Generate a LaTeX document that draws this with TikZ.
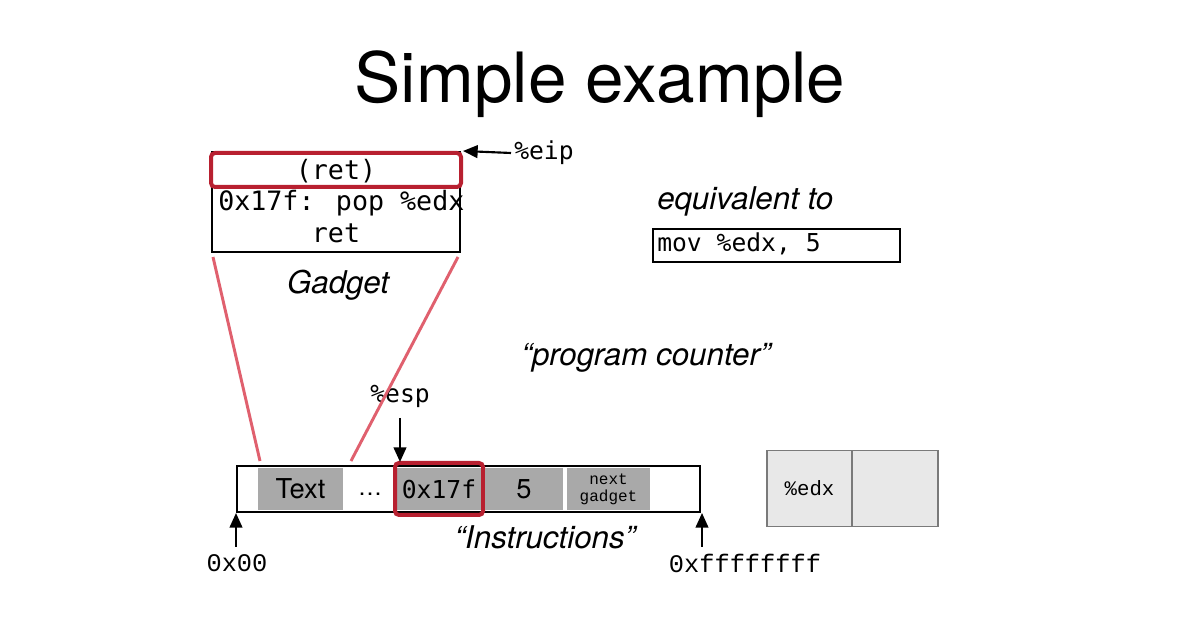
\documentclass[tikz,border=0pt]{standalone}
\usepackage{fontspec}
\setmainfont{TeX Gyre Heros}
\newfontfamily\codefont{DejaVu Sans Mono}
\newfontfamily\courfont{Liberation Mono}
\usetikzlibrary{arrows.meta}

\definecolor{boxred}{HTML}{B82030}
\definecolor{linkred}{HTML}{E0606E}
\definecolor{cellgray}{HTML}{A9A9A9}
\definecolor{regfill}{HTML}{E8E8E8}
\definecolor{regline}{HTML}{7A7A7A}

\tikzset{
  plainbox/.style={draw=black, line width=0.9pt, inner sep=0pt},
  hotbox/.style={draw=boxred, line width=3pt, rounded corners=3pt, inner sep=0pt},
  cell/.style={fill=cellgray, inner sep=0pt, minimum height=31.5pt},
  regcell/.style={draw=regline, fill=regfill, line width=0.8pt, inner sep=0pt, minimum height=57pt},
  pointer/.style={line width=1.6pt, -{Triangle[length=11pt,width=9.5pt]}},
  zoomline/.style={draw=linkred, line width=2.2pt},
  code/.style={font=\codefont\fontsize{18.5}{22}\selectfont, inner sep=0pt},
  bigcode/.style={font=\codefont\fontsize{20}{24}\selectfont, inner sep=0pt},
  addr/.style={font=\courfont\fontsize{19}{22}\selectfont, inner sep=0pt},
  caption/.style={font=\itshape\fontsize{23.5}{28}\selectfont, inner sep=0pt}
}

\begin{document}
\begin{tikzpicture}[x=0.75pt, y=-0.75pt]
\useasboundingbox[fill=white] (0,0) rectangle (1200,630);

% title
\node[anchor=base, inner sep=0pt, font=\fontsize{52}{60}\selectfont] (title) at (600,103) {Simple example};

% gadget listing
\node[plainbox, minimum width=186pt, minimum height=75pt] (gadget) at (336,202) {};
\node[hotbox, minimum width=187.5pt, minimum height=25.5pt] (retbox) at (336,170) {};
\node[bigcode] (rettxt) at (336,171) {(ret)};
\node[bigcode, anchor=base west] (popline) at (218,211) {0x17f: pop \%edx};
\node[bigcode, anchor=base] (retline) at (336,243) {ret};
\node[caption, anchor=base] (gadgetlbl) at (338,294) {Gadget};

% instruction pointer
\node[code, anchor=west] (eip) at (514,153) {\%eip};
\draw[pointer] (eip.west) ++(-3,0) -- (retbox.north east);

% equivalent instruction
\node[caption, anchor=base west] (equiv) at (657,210) {equivalent to};
\node[plainbox, minimum width=185.25pt, minimum height=24.75pt] (movbox) at (776.5,245.5) {};
\node[code, anchor=west] (movtxt) at (657,244) {mov \%edx, 5};

\node[caption, anchor=base] (pc) at (646,366) {“program counter”};

% memory strip
\node[plainbox, minimum width=347.25pt, minimum height=34.5pt] (mem) at (468.5,489) {};
\node[cell, minimum width=63.75pt, font=\fontsize{20.5}{24}\selectfont] (textcell) at (300.5,489) {Text};
\node[anchor=base, inner sep=0pt, font=\fontsize{18}{22}\selectfont] (dots) at (370,496) {…};
\node[cell, minimum width=64.5pt, code] (gadcell) at (439,489) {0x17f};
\node[hotbox, minimum width=66pt, minimum height=39pt] (gadframe) at (439,489) {};
\node[cell, minimum width=58.5pt, font=\fontsize{20.5}{24}\selectfont] (fivecell) at (524,489) {5};
\node[cell, minimum width=62.25pt, align=center, font=\courfont\fontsize{12}{13}\selectfont] (nextcell) at (608.5,489) {next\\gadget};

% stack pointer
\node[code] (esp) at (400,396) {\%esp};
\coordinate (esptip) at (400,462);
\draw[pointer] (400,418) -- (esptip);

% zoom lines from gadget to memory
\coordinate (zl1) at (213,257);
\coordinate (zl2) at (260,461);
\coordinate (zr1) at (458,257);
\coordinate (zr2) at (351,461);
\draw[zoomline] (zl1) -- (zl2);
\draw[zoomline] (zr1) -- (zr2);

% address bounds
\node[addr] (lo) at (237,563) {0x00};
\node[addr] (hi) at (745,563) {0xffffffff};
\coordinate (lotip) at (236,513);
\coordinate (hitip) at (702,513);
\draw[pointer] (236,547) -- (lotip);
\draw[pointer] (702,547) -- (hitip);
\node[caption] (instr) at (545,537) {“Instructions”};

% register
\node[regcell, minimum width=63.75pt, font=\courfont\fontsize{15.5}{18}\selectfont] (reg) at (809.5,488.5) {\%edx};
\node[regcell, minimum width=64.5pt] (regval) at (895,488.5) {};
\end{tikzpicture}
\end{document}
